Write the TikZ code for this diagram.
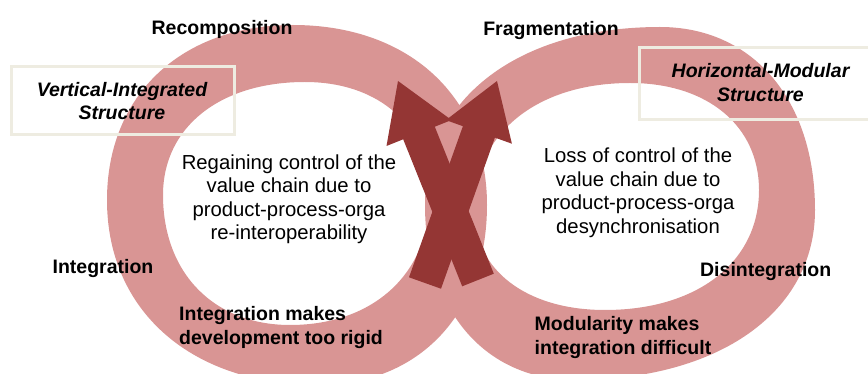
\documentclass[tikz,border=0pt]{standalone}
\usepackage{fontspec}
\setmainfont{Liberation Sans}
\usetikzlibrary{calc}
\definecolor{ringpink}{HTML}{D99594}
\definecolor{arrowred}{HTML}{943634}
\definecolor{boxline}{HTML}{EEECE1}
\def\eggk{0.6}
\tikzset{
  ring/.style={fill=ringpink, even odd rule},
  egg/.style={insert path={
    (#1T) .. controls ($(#1T)!\eggk!(#1R|-#1T)$) and ($(#1R)!\eggk!(#1R|-#1T)$) .. (#1R)
          .. controls ($(#1R)!\eggk!(#1R|-#1B)$) and ($(#1B)!\eggk!(#1R|-#1B)$) .. (#1B)
          .. controls ($(#1B)!\eggk!(#1L|-#1B)$) and ($(#1L)!\eggk!(#1L|-#1B)$) .. (#1L)
          .. controls ($(#1L)!\eggk!(#1L|-#1T)$) and ($(#1T)!\eggk!(#1L|-#1T)$) .. (#1T) -- cycle}},
  crossarrow/.style={fill=arrowred},
  framebox/.style={draw=boxline, line width=3pt},
  boldlbl/.style={inner sep=0pt, font=\fontsize{19.5}{23.5}\selectfont\bfseries},
  boxlbl/.style={inner sep=0pt, align=center, font=\fontsize{19.5}{23.5}\selectfont\bfseries\itshape},
  bodylbl/.style={inner sep=0pt, align=center, font=\fontsize{20.3}{23.5}\selectfont},
  notelbl/.style={inner sep=0pt, align=left, font=\fontsize{19.5}{23.5}\selectfont\bfseries},
}
\begin{document}
\begin{tikzpicture}[x=1pt,y=-1pt]
\useasboundingbox (0,0) rectangle (868,374);
% extreme points of the ring outlines (T top, R right, B bottom, L left)
\coordinate (LOT) at (293,25);  \coordinate (LOR) at (487,205);
\coordinate (LOB) at (318,385); \coordinate (LOL) at (107,200);
\coordinate (LIT) at (305,82);  \coordinate (LIR) at (430,195);
\coordinate (LIB) at (290,325); \coordinate (LIL) at (163,195);
\coordinate (ROT) at (660,27);  \coordinate (ROR) at (815,210);
\coordinate (ROB) at (575,380); \coordinate (ROL) at (425,205);
\coordinate (RIT) at (630,83);  \coordinate (RIR) at (759,190);
\coordinate (RIB) at (605,310); \coordinate (RIL) at (474,210);
% rings
\fill[ring] [egg=LO] [egg=LI];
\fill[ring] [egg=RO] [egg=RI];
% crossing arrows
\fill[crossarrow] (493.8,273.7) -- (434.8,126.7) -- (451.5,120) -- (398,81) -- (386.5,146) -- (403.2,139.3) -- (462.2,286.3) -- cycle;
\fill[crossarrow] (409,277.3) -- (462.9,126.2) -- (445.9,120.1) -- (497,81) -- (511.9,143.7) -- (494.9,137.6) -- (441,288.7) -- cycle;
% frames
\draw[framebox] (11,67) rectangle (234,135);
\draw[framebox] (639,48) rectangle (880,120);
% labels
\node[boldlbl, anchor=base] (recomp) at (222,34.3) {Recomposition};
\node[boldlbl, anchor=base] (frag) at (551,35.5) {Fragmentation};
\node[boxlbl, anchor=north] (vert) at (122,79.55) {\strut Vertical-Integrated\\Structure\strut};
\node[boxlbl, anchor=north] (horiz) at (760.5,61.25) {\strut Horizontal-Modular\\Structure\strut};
\node[bodylbl, anchor=north] (regain) at (289,152.55) {\strut Regaining control of the\\value chain due to\\product-process-orga\\re-interoperability\strut};
\node[bodylbl, anchor=north] (loss) at (638,146) {\strut Loss of control of the\\value chain due to\\product-process-orga\\desynchronisation\strut};
\node[boldlbl, anchor=base] (integ) at (103,273) {Integration};
\node[boldlbl, anchor=base] (disint) at (765.7,277) {Disintegration};
\node[notelbl, anchor=north west] (rigid) at (179,303.85) {\strut Integration makes\\development too rigid\strut};
\node[notelbl, anchor=north west] (difficult) at (534.5,313.85) {\strut Modularity makes\\integration difficult\strut};
\end{tikzpicture}
\end{document}
